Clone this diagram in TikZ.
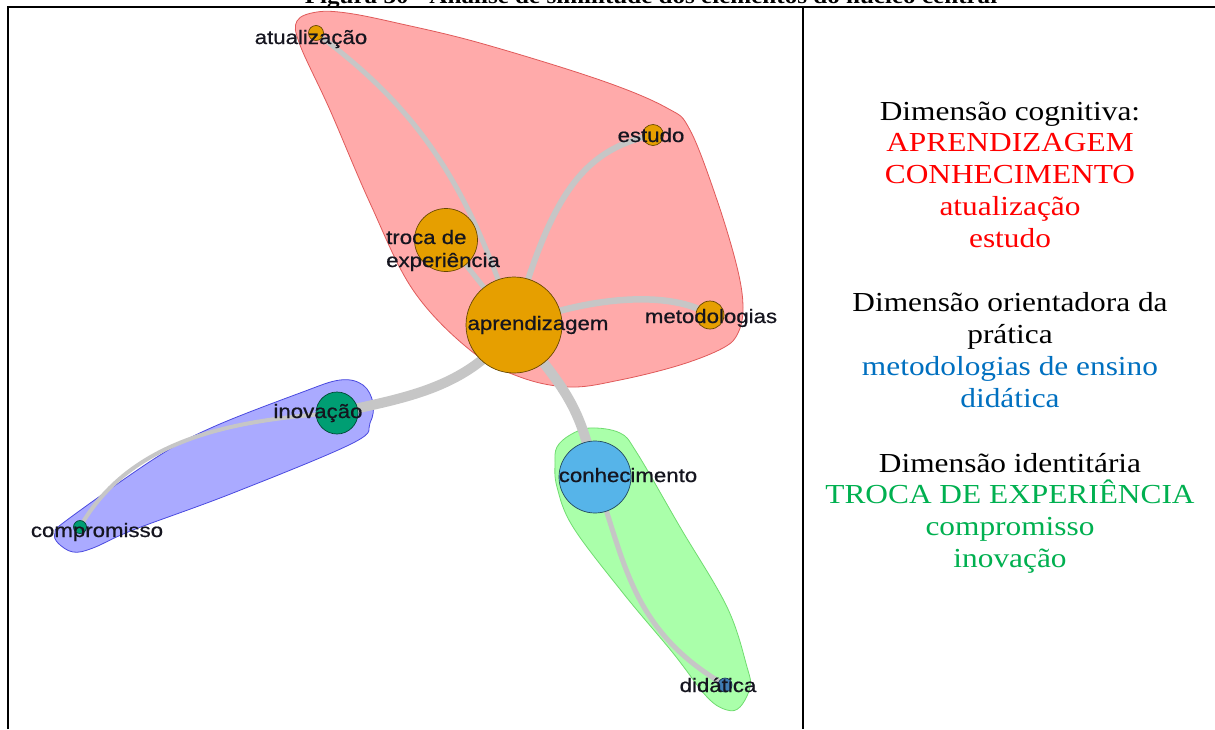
\documentclass[tikz,border=0pt]{standalone}
\usepackage{fontspec}
\usepackage{graphicx}
\setmainfont{Liberation Serif}
\newfontfamily\lblfont[FakeBold=0.6]{Liberation Sans}

\definecolor{hullred}{HTML}{FFAAAA}
\definecolor{hullredline}{HTML}{E05A5A}
\definecolor{hullblue}{HTML}{AAAAFF}
\definecolor{hullblueline}{HTML}{4A4AE0}
\definecolor{hullgreen}{HTML}{AAFFAA}
\definecolor{hullgreenline}{HTML}{70DC70}
\definecolor{edgegray}{HTML}{C6C6C6}
\definecolor{vorange}{HTML}{E69F00}
\definecolor{vgreen}{HTML}{009E73}
\definecolor{vsky}{HTML}{56B4E9}
\definecolor{vblue}{HTML}{3F7DB5}
\definecolor{lbltext}{HTML}{15151F}
\definecolor{dimred}{HTML}{FF0000}
\definecolor{dimblue}{HTML}{0070C0}
\definecolor{dimgreen}{HTML}{00B050}

% slightly widened lettering
\newcommand{\wider}[1]{\scalebox{1.14}[1]{#1}}

\tikzset{
  hullR/.style={fill=hullred, draw=hullredline, line width=0.8pt},
  hullB/.style={fill=hullblue, draw=hullblueline, line width=0.8pt},
  hullG/.style={fill=hullgreen, draw=hullgreenline, line width=0.8pt},
  edge/.style={draw=edgegray, line cap=round},
  vtx/.style={circle, inner sep=0pt, line width=0.7pt},
  vOr/.style={vtx, fill=vorange, draw=vorange!45!black},
  vGr/.style={vtx, fill=vgreen, draw=vgreen!45!black},
  vSk/.style={vtx, fill=vsky, draw=vsky!40!black},
  vBl/.style={vtx, fill=vblue, draw=vblue!45!black},
  lbl/.style={font=\lblfont\fontsize{19.5}{23}\selectfont, text=lbltext, inner sep=0pt, anchor=base},
  dimtxt/.style={font=\fontsize{27.5}{32}\selectfont, inner sep=0pt, anchor=base},
  frame/.style={line width=2.5pt, draw=black},
}

\begin{document}
\begin{tikzpicture}[x=1pt, y=-1pt]
\useasboundingbox (0,0) rectangle (1215,729);
\fill[white] (0,0) rectangle (1215,729);

% caption running off the top edge
\node[font=\bfseries\fontsize{22}{24}\selectfont, inner sep=0pt, anchor=base] (caption) at (651,3.5)
  {\wider{Figura 30 - Análise de similitude dos elementos do núcleo central}};

% table rules
\draw[frame] (8,729) -- (8,7) -- (1215,7);
\draw[frame] (803,7) -- (803,729);

% community hulls
\draw[hullR] plot[smooth cycle, tension=0.6] coordinates {
  (297,21) (317,12) (347,13) (397,23) (480,43) (600,80) (667,108) (690,130)
  (717,200) (737,267) (743,307) (738,333) (723,348) (680,365) (620,380)
  (570,387) (520,377) (470,350) (413,290) (370,203) (330,110) (300,45)};
\draw[hullB] plot[smooth cycle, tension=0.6] coordinates {
  (55,533) (67,520) (157,457) (213,427) (300,393) (340,380) (363,385)
  (373,403) (370,423) (353,443) (233,493) (133,530) (93,548) (73,552) (58,543)};
\draw[hullG] plot[smooth cycle, tension=0.6] coordinates {
  (555,463) (557,447) (570,435) (590,428) (620,433) (637,453) (680,527)
  (727,607) (747,667) (750,687) (740,707) (727,710) (707,697) (673,653)
  (623,593) (573,527) (557,487)};

% vertices
\coordinate (apr) at (514,325);
\coordinate (tro) at (446,240);
\coordinate (atu) at (316,33);
\coordinate (est) at (653,135);
\coordinate (met) at (710,315);
\coordinate (ino) at (337,413);
\coordinate (com) at (80,527);
\coordinate (con) at (595,477);
\coordinate (did) at (725,685);

% edges
\draw[edge, line width=5pt] (atu) .. controls (420,110) and (468,185) .. (apr);
\draw[edge, line width=5pt] (tro) -- (apr);
\draw[edge, line width=6pt] (est) .. controls (580,150) and (550,200) .. (apr);
\draw[edge, line width=6.5pt] (met) .. controls (680,295) and (610,290) .. (apr);
\draw[edge, line width=10pt] (apr) .. controls (470,390) and (400,398) .. (ino);
\draw[edge, line width=10pt] (apr) .. controls (560,385) and (580,400) .. (con);
\draw[edge, line width=5pt] (con) .. controls (625,560) and (630,630) .. (did);
\draw[edge, line width=4pt] (ino) .. controls (230,420) and (130,440) .. (com);

% vertex discs
\node[vOr, minimum size=96pt] (aprN) at (apr) {};
\node[vOr, minimum size=63pt] (troN) at (tro) {};
\node[vOr, minimum size=15pt] (atuN) at (atu) {};
\node[vOr, minimum size=21pt] (estN) at (est) {};
\node[vOr, minimum size=28pt] (metN) at (met) {};
\node[vGr, minimum size=42pt] (inoN) at (ino) {};
\node[vGr, minimum size=13pt] (comN) at (com) {};
\node[vSk, minimum size=72pt] (conN) at (con) {};
\node[vBl, minimum size=14pt] (didN) at (did) {};

% vertex labels
\node[lbl] (atuL) at (311,44) {\wider{atualização}};
\node[lbl] (estL) at (651,142) {\wider{estudo}};
\node[lbl] (metL) at (711,323) {\wider{metodologias}};
\node[lbl] (aprL) at (538,330) {\wider{aprendizagem}};
\node[lbl, anchor=base west] (troL1) at (386,244) {\wider{troca de}};
\node[lbl, anchor=base west] (troL2) at (386,267) {\wider{experiência}};
\node[lbl] (inoL) at (318,418) {\wider{inovação}};
\node[lbl] (comL) at (97,537) {\wider{compromisso}};
\node[lbl] (conL) at (628,482) {\wider{conhecimento}};
\node[lbl] (didL) at (718,692) {\wider{didática}};

% dimensions column
\node[dimtxt] (d1) at (1010,120) {\wider{Dimensão cognitiva:}};
\node[dimtxt, text=dimred] (d2) at (1010,151) {\wider{APRENDIZAGEM}};
\node[dimtxt, text=dimred] (d3) at (1010,183) {\wider{CONHECIMENTO}};
\node[dimtxt, text=dimred] (d4) at (1010,215) {\wider{atualização}};
\node[dimtxt, text=dimred] (d5) at (1010,247) {\wider{estudo}};
\node[dimtxt] (d6) at (1010,311) {\wider{Dimensão orientadora da}};
\node[dimtxt] (d7) at (1010,343) {\wider{prática}};
\node[dimtxt, text=dimblue] (d8) at (1010,375) {\wider{metodologias de ensino}};
\node[dimtxt, text=dimblue] (d9) at (1010,407) {\wider{didática}};
\node[dimtxt] (d10) at (1010,472) {\wider{Dimensão identitária}};
\node[dimtxt, text=dimgreen] (d11) at (1010,503) {\wider{TROCA DE EXPERIÊNCIA}};
\node[dimtxt, text=dimgreen] (d12) at (1010,535) {\wider{compromisso}};
\node[dimtxt, text=dimgreen] (d13) at (1010,567) {\wider{inovação}};
\end{tikzpicture}
\end{document}
